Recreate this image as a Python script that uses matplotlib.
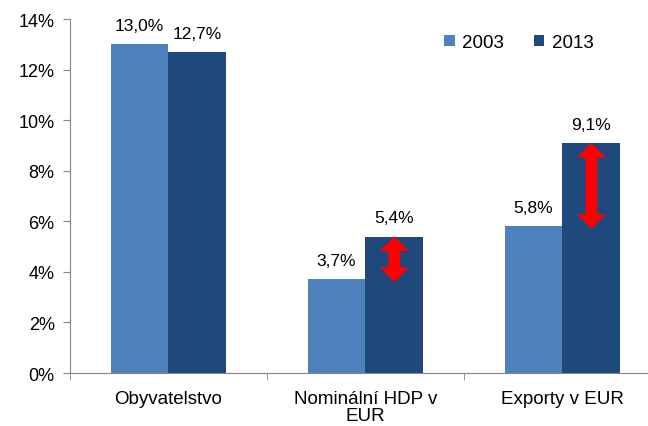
import numpy as np
import matplotlib.pyplot as plt
from matplotlib.patches import FancyArrowPatch

plt.rcParams['font.family'] = ['Liberation Sans', 'DejaVu Sans']

categories = ['Obyvatelstvo', 'Nominální HDP v\nEUR', 'Exporty v EUR']
years = ['2003', '2013']
v2003 = [13.0, 3.7, 5.8]
v2013 = [12.7, 5.4, 9.1]
arrow_cats = [1, 2]

c1 = '#4F81BD'
c2 = '#1F497D'
w = 0.294

fig = plt.figure(figsize=(6.48, 4.27), dpi=100)
ax = fig.add_axes([0.108, 0.124, 0.892, 0.829])

x = np.arange(len(categories))
b1 = ax.bar(x - w / 2, v2003, w, color=c1, label=years[0])
b2 = ax.bar(x + w / 2, v2013, w, color=c2, label=years[1])

for bars, vals in [(b1, v2003), (b2, v2013)]:
    for r, v in zip(bars, vals):
        ax.text(r.get_x() + r.get_width() / 2, v + 0.45, f'{v:.1f}%'.replace('.', ','),
                ha='center', va='bottom', fontsize=12.5)

# red double arrows: two "simple" arrows from the middle outwards
style = 'simple,head_length=10.5,head_width=21,tail_width=8.5'
for i in arrow_cats:
    lo, hi = sorted([v2003[i], v2013[i]])
    lo -= 0.1
    mid = (lo + hi) / 2
    for end in (lo, hi):
        ax.add_patch(FancyArrowPatch((x[i] + w / 2, mid), (x[i] + w / 2, end),
                                     arrowstyle=style, mutation_scale=1, lw=0,
                                     color='red', shrinkA=0, shrinkB=0))

ax.set_yticks(range(0, 15, 2))
ax.set_yticklabels([f'{t}%' for t in range(0, 15, 2)], fontsize=13)
ax.set_xticks(x)
ax.set_xticklabels(categories, fontsize=13.5, linespacing=1.05)
ax.set_xticks(np.arange(-0.5, 3, 1), minor=True)
ax.set_ylim(0, 14)
ax.set_xlim(-0.5, 2.434)
ax.tick_params(axis='x', which='major', length=0, pad=12)
ax.tick_params(axis='x', which='minor', length=5, color='#868686')
ax.tick_params(axis='y', length=5, color='#868686', pad=6)
for s in ['top', 'right']:
    ax.spines[s].set_visible(False)
for s in ['left', 'bottom']:
    ax.spines[s].set_color('#868686')

ax.legend(loc='upper right', bbox_to_anchor=(0.935, 1.005), ncol=2, frameon=False,
          fontsize=13.5, handlelength=0.55, handleheight=0.55, columnspacing=1.6,
          handletextpad=0.4)

fig.savefig('out.png', dpi=100)
